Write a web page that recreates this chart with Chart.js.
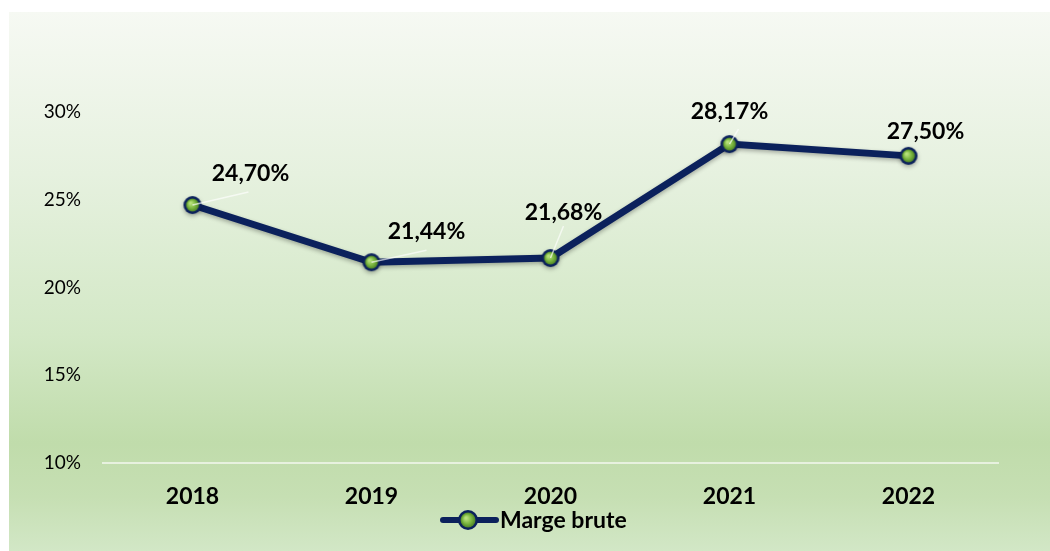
<!DOCTYPE html>
<html>
<head>
<meta charset="utf-8">
<script src="https://cdn.jsdelivr.net/npm/chart.js@4"></script>
<style>
    html, body { margin: 0; padding: 0; background: #ffffff; }
    #box {
        position: absolute; left: 9px; top: 12px; width: 1041px; height: 539px;
        background: linear-gradient(to bottom, #f6f9f3 0%, #e6f1df 30%, #d3e8c6 60%, #c0dcab 80%, #c6dfb3 90%, #d2e7c6 100%);
    }
    canvas { display: block; }
</style>
</head>
<body>
<div id="box"><canvas id="chart" width="1041" height="539"></canvas></div>
<script>
const years = ['2018', '2019', '2020', '2021', '2022'];
const margeBrute = [24.70, 21.44, 21.68, 28.17, 27.50];
const yTicks = [10, 15, 20, 25, 30];
const labelOffsets = [[58, -31], [55, -31], [13, -45], [0, -33], [17, -24]];
const leaderEnds = [[56, -13], [55, -12], [13, -32], [9, -15], null];

const navy = '#0b215c';
const fontFamily = 'Lato, "Open Sans", sans-serif';
const fmt = (v) => v.toFixed(2).replace('.', ',') + '%';

const makeBall = (r) => {
    const c = document.createElement('canvas');
    const s = r * 2 + 2;
    c.width = s; c.height = s;
    const g = c.getContext('2d');
    g.beginPath();
    g.arc(s / 2, s / 2, r, 0, Math.PI * 2);
    g.fillStyle = navy;
    g.fill();
    const grad = g.createRadialGradient(s / 2 - 2, s / 2 - 2, 1, s / 2, s / 2, r - 2.5);
    grad.addColorStop(0, '#b6e07a');
    grad.addColorStop(0.6, '#76b23c');
    grad.addColorStop(1, '#4d8226');
    g.beginPath();
    g.arc(s / 2, s / 2, r - 2.5, 0, Math.PI * 2);
    g.fillStyle = grad;
    g.fill();
    return c;
};
const ball = makeBall(9);
const legendBall = makeBall(10);

const dataLabels = {
    id: 'dataLabels',
    afterDatasetsDraw(chart) {
        const ctx = chart.ctx;
        const meta = chart.getDatasetMeta(0);
        ctx.save();
        meta.data.forEach((pt, i) => {
            const end = leaderEnds[i];
            if (end) {
                ctx.strokeStyle = 'rgba(255,255,255,0.65)';
                ctx.lineWidth = 1.5;
                ctx.beginPath();
                ctx.moveTo(pt.x, pt.y);
                ctx.lineTo(pt.x + end[0], pt.y + end[1]);
                ctx.stroke();
            }
            const [dx, dy] = labelOffsets[i];
            ctx.fillStyle = '#000000';
            ctx.font = `bold 23px ${fontFamily}`;
            ctx.textAlign = 'center';
            ctx.textBaseline = 'middle';
            ctx.fillText(fmt(margeBrute[i]), pt.x + dx, pt.y + dy);
        });
        // legend
        const ly = 508;
        ctx.strokeStyle = navy;
        ctx.lineWidth = 6;
        ctx.lineCap = 'round';
        ctx.beginPath();
        ctx.moveTo(434, ly);
        ctx.lineTo(487, ly);
        ctx.stroke();
        ctx.drawImage(legendBall, 459 - legendBall.width / 2, ly - legendBall.height / 2);
        ctx.textAlign = 'left';
        ctx.font = `bold 23px ${fontFamily}`;
        ctx.fillText('Marge brute', 491, ly + 1);
        ctx.restore();
    },
};

const lineShadow = {
    id: 'lineShadow',
    beforeDatasetDraw(chart) {
        const ctx = chart.ctx;
        ctx.save();
        ctx.shadowColor = 'rgba(0,0,0,0.3)';
        ctx.shadowBlur = 4;
        ctx.shadowOffsetY = 2;
    },
    afterDatasetDraw(chart) {
        chart.ctx.restore();
    },
};

new Chart(document.getElementById('chart'), {
    type: 'line',
    data: {
        labels: years,
        datasets: [{
            label: 'Marge brute',
            data: margeBrute,
            borderColor: navy,
            borderWidth: 7,
            tension: 0,
            pointStyle: ball,
            pointRadius: 9,
            pointHoverRadius: 9,
        }],
    },
    options: {
        responsive: false,
        animation: false,
        layout: { padding: { top: 100, right: 52, left: 0, bottom: 0 } },
        plugins: {
            legend: { display: false },
            tooltip: { enabled: false },
        },
        scales: {
            x: {
                offset: true,
                grid: { display: false, drawTicks: false },
                border: { display: true, color: 'rgba(255,255,255,0.6)', width: 2 },
                ticks: { color: '#000000', padding: 20, font: { family: fontFamily, size: 23, weight: 'bold' } },
                afterFit: (scale) => { scale.height = 88; },
            },
            y: {
                min: 10,
                max: 30,
                grid: { display: false, drawTicks: false },
                border: { display: false },
                afterBuildTicks: (scale) => { scale.ticks = yTicks.map((v) => ({ value: v })); },
                ticks: {
                    color: '#000000',
                    padding: 22,
                    font: { family: fontFamily, size: 19 },
                    callback: (v) => v + '%',
                },
                afterFit: (scale) => { scale.width = 94; },
            },
        },
    },
    plugins: [lineShadow, dataLabels],
});
</script>
</body>
</html>
